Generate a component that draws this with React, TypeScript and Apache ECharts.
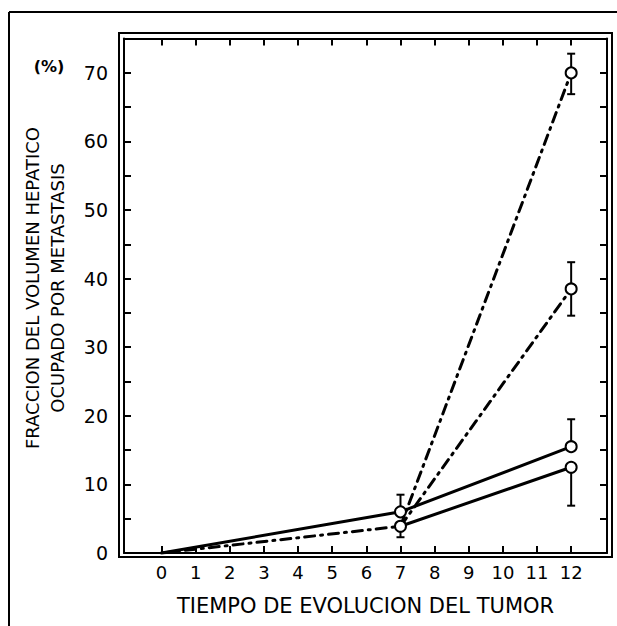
import React, { useEffect, useRef } from "react";
import * as echarts from "echarts";

const xTickValues = [0, 1, 2, 3, 4, 5, 6, 7, 8, 9, 10, 11, 12];
const yLabelValues = [0, 10, 20, 30, 40, 50, 60, 70];
const yTickValues = [0, 5, 10, 15, 20, 25, 30, 35, 40, 45, 50, 55, 60, 65, 70];

const solidUpper = [[0, 0], [7, 6], [12, 15.5]];
const dashLowerStart = [[0, 0], [7, 3.9]];
const solidLower = [[7, 3.9], [12, 12.5]];
const dashTo38 = [[7, 3.9], [12, 38.5]];
const dashTo70 = [[7, 3.9], [12, 70]];
const circlePoints = [[7, 6], [7, 3.9], [12, 70], [12, 38.5], [12, 15.5], [12, 12.5]];
// [x, from, to]
const errorBars = [
  [7, 6, 8.5],
  [7, 3.9, 2.3],
  [12, 66.9, 72.8],
  [12, 34.6, 42.4],
  [12, 15.5, 19.5],
  [12, 12.5, 6.9],
];

const FONT = "DejaVu Sans";
const dashDot = [10, 6, 2, 6];

export default function App() {
  const ref = useRef<HTMLDivElement>(null);
  useEffect(() => {
    if (!ref.current) return;
    const chart = echarts.init(ref.current, null, { renderer: "svg" });
    const lineCommon = (data: number[][], dashed: boolean, z = 3) => ({
      type: "line",
      data,
      showSymbol: false,
      symbol: "none",
      z,
      lineStyle: {
        color: "#000",
        width: 3,
        type: dashed ? dashDot : "solid",
        cap: "round",
      },
    });
    chart.setOption({
      animation: false,
      backgroundColor: "#fff",
      textStyle: { fontFamily: FONT, color: "#000" },
      grid: { left: 124, right: 10, top: 38.6, bottom: 73, containLabel: false },
      xAxis: [
        {
          type: "value",
          position: "bottom",
          min: -1.1,
          max: 13.05,
          splitLine: { show: false },
          axisLine: { show: true, onZero: false, lineStyle: { color: "#000", width: 2 } },
          axisTick: { show: true, inside: true, length: 7, lineStyle: { color: "#000", width: 2 }, customValues: xTickValues },
          axisLabel: { show: true, color: "#000", fontSize: 18, fontFamily: FONT, margin: 10, customValues: xTickValues },
          name: "TIEMPO DE EVOLUCION DEL TUMOR",
          nameLocation: "middle",
          nameGap: 42,
          nameTextStyle: { fontSize: 21, color: "#000", fontFamily: FONT },
        },
        {
          type: "value",
          position: "top",
          min: -1.1,
          max: 13.05,
          splitLine: { show: false },
          axisLine: { show: true, onZero: false, lineStyle: { color: "#000", width: 2 } },
          axisTick: { show: true, inside: true, length: 7, lineStyle: { color: "#000", width: 2 }, customValues: xTickValues },
          axisLabel: { show: false },
        },
      ],
      yAxis: [
        {
          type: "value",
          position: "left",
          min: 0,
          max: 75,
          splitLine: { show: false },
          axisLine: { show: true, onZero: false, lineStyle: { color: "#000", width: 2 } },
          axisTick: { show: true, inside: true, length: 7, lineStyle: { color: "#000", width: 2 }, customValues: yTickValues },
          axisLabel: { show: true, color: "#000", fontSize: 19, fontFamily: FONT, margin: 16, customValues: yLabelValues },
        },
        {
          type: "value",
          position: "right",
          min: 0,
          max: 75,
          splitLine: { show: false },
          axisLine: { show: true, onZero: false, lineStyle: { color: "#000", width: 2 } },
          axisTick: { show: true, inside: true, length: 7, lineStyle: { color: "#000", width: 2 }, customValues: yTickValues },
          axisLabel: { show: false },
        },
      ],
      graphic: [
        { type: "line", shape: { x1: 9, y1: 12, x2: 617, y2: 12 }, style: { stroke: "#000", lineWidth: 2 } },
        { type: "line", shape: { x1: 9, y1: 12, x2: 9, y2: 626 }, style: { stroke: "#000", lineWidth: 2 } },
        { type: "rect", shape: { x: 119, y: 33, width: 493, height: 524 }, style: { fill: "none", stroke: "#000", lineWidth: 2 } },
        {
          type: "text",
          x: 49,
          y: 66,
          style: { text: "(%)", font: `bold 16px "${FONT}"`, fill: "#000", align: "center", verticalAlign: "middle" },
        },
        {
          type: "text",
          x: 45,
          y: 288,
          rotation: Math.PI / 2,
          style: {
            text: "FRACCION DEL VOLUMEN HEPATICO\nOCUPADO POR METASTASIS",
            font: `18px "${FONT}"`,
            fill: "#000",
            align: "center",
            verticalAlign: "middle",
            lineHeight: 25,
          },
        },
      ],
      series: [
        lineCommon(solidUpper, false),
        lineCommon(dashLowerStart, true),
        lineCommon(solidLower, false),
        lineCommon(dashTo38, true),
        lineCommon(dashTo70, true),
        {
          type: "custom",
          z: 4,
          data: errorBars,
          renderItem: (params: any, api: any) => {
            const x = api.value(0);
            const p1 = api.coord([x, api.value(1)]);
            const p2 = api.coord([x, api.value(2)]);
            const cw = 4;
            const st = { stroke: "#000", lineWidth: 2 };
            return {
              type: "group",
              children: [
                { type: "line", shape: { x1: p1[0], y1: p1[1], x2: p2[0], y2: p2[1] }, style: st },
                { type: "line", shape: { x1: p2[0] - cw, y1: p2[1], x2: p2[0] + cw, y2: p2[1] }, style: st },
                { type: "line", shape: { x1: p1[0] - cw, y1: p1[1], x2: p1[0] + cw, y2: p1[1] }, style: st },
              ],
            };
          },
        },
        {
          type: "scatter",
          z: 5,
          data: circlePoints,
          symbol: "circle",
          symbolSize: 11,
          itemStyle: { color: "#fff", borderColor: "#000", borderWidth: 2, opacity: 1 },
        },
      ],
    });
    return () => chart.dispose();
  }, []);
  return <div ref={ref} style={{ width: 617, height: 626, position: "absolute", left: 0, top: 0 }} />;
}
